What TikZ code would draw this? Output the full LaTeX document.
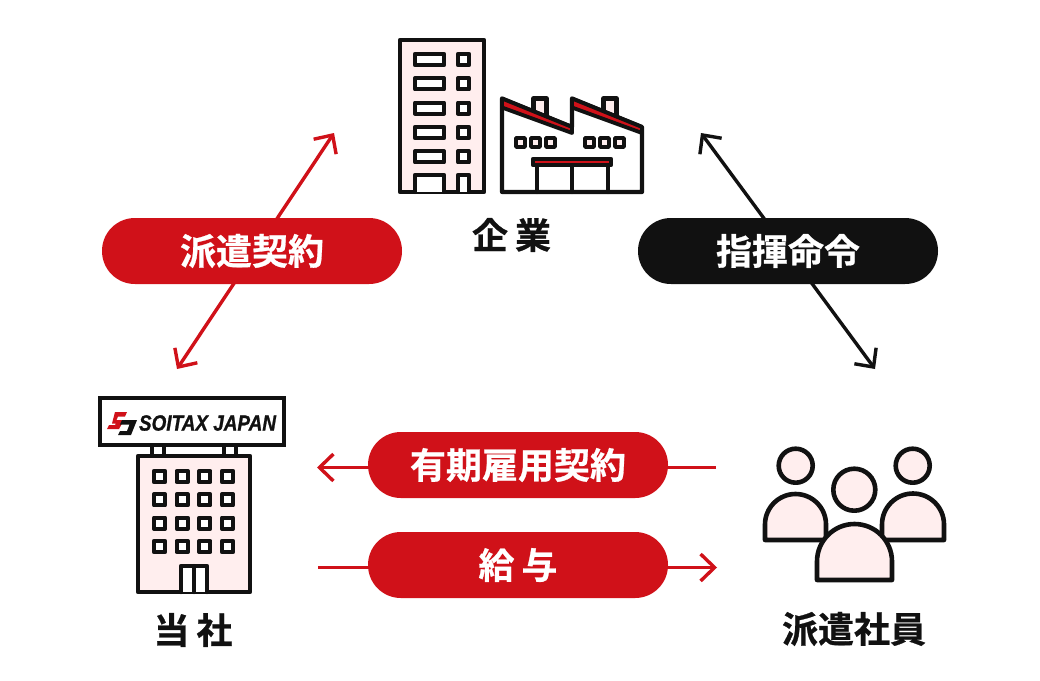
\documentclass[tikz,border=0pt]{standalone}
\usepackage{fontspec}
\setmainfont{Noto Sans CJK JP}
\newfontfamily\cjkb[FakeBold=0.7]{Noto Sans CJK JP Bold}
\newfontfamily\logofont[FakeBold=1.2]{Liberation Sans Bold Italic}
\usetikzlibrary{arrows.meta}
\definecolor{myred}{HTML}{D01119}
\definecolor{myblack}{HTML}{111111}
\definecolor{mypink}{HTML}{FFEEEE}
\tikzset{
  x=1pt,y=-1pt,
  icon/.style={draw=myblack,line width=4.2pt,line join=round,line cap=round},
  pinkicon/.style={icon,fill=mypink},
  whiteicon/.style={icon,fill=white},
  redicon/.style={icon,fill=myred},
  personicon/.style={pinkicon,line width=4.6pt},
  pill/.style={rounded corners=32.9pt,minimum width=300pt,minimum height=66pt,inner sep=0pt,text=white,font=\cjkb\fontsize{36}{36}\selectfont},
  redpill/.style={pill,fill=myred},
  blackpill/.style={pill,fill=myblack},
  caption/.style={text=myblack,font=\cjkb\fontsize{36}{36}\selectfont,inner sep=0pt},
  redarrow/.style={draw=myred,line width=3.4pt},
  blackarrow/.style={draw=myblack,line width=3.4pt},
  tip/.tip={Straight Barb[length=14pt,width=27pt,line width=3.4pt]},
}
\begin{document}
\begin{tikzpicture}
\useasboundingbox (0,0) rectangle (1040,680);
\fill[white] (0,0) rectangle (1040,680);
% arrow ends
\coordinate (a1) at (334,133);
\coordinate (a2) at (177,369);
\coordinate (b1) at (701,133);
\coordinate (b2) at (875,369);
\coordinate (c1) at (716,467.5);
\coordinate (c2) at (317,467.5);
\coordinate (d1) at (318,567.5);
\coordinate (d2) at (717,567.5);
\draw[redarrow,{tip}-{tip}] (a2) -- (a1);
\draw[blackarrow,{tip}-{tip}] (b1) -- (b2);
\draw[redarrow,-{tip}] (c1) -- (c2);
\draw[redarrow,-{tip}] (d1) -- (d2);
% pills
\node[redpill] (haken) at (252,251) {派遣契約};
\node[blackpill] (shiki) at (788,251) {指揮命令};
\node[redpill] (yuki) at (518,465) {有期雇用契約};
\node[redpill] (kyuyo) at (518,565) {給\hspace{7pt}与};
% captions
\node[caption] (kigyo) at (511.5,235) {企\hspace{7pt}業};
\node[caption] (tosha) at (193,630) {当\hspace{7pt}社};
\node[caption] (shain) at (854,629) {派遣社員};
% office building
\draw[pinkicon] (400,40) rectangle (484,192);
\foreach \yy in {54,78.3,102.6,127,151.3}{
  \draw[whiteicon] (415,\yy) rectangle (444,\yy+11);
  \draw[whiteicon] (458,\yy) rectangle (469,\yy+11);
}
\draw[whiteicon] (415,192) -- (415,175) -- (444,175) -- (444,192);
\draw[whiteicon] (458,192) -- (458,175) -- (469,175) -- (469,192);
% factory
\draw[pinkicon] (533.5,120) -- (533.5,98.5) -- (546.5,98.5) -- (546.5,120);
\draw[pinkicon] (603.5,120) -- (603.5,98.5) -- (616.5,98.5) -- (616.5,120);
\draw[whiteicon] (502,192) -- (502,98.5) -- (572,127) -- (572,98.5) -- (642,127) -- (642,192) -- cycle;
\draw[redicon,line width=3.8pt] (502,98.5) -- (572,127) -- (572,133) -- (502,107.5) -- cycle;
\draw[redicon,line width=3.8pt] (572,98.5) -- (642,127) -- (642,133) -- (572,107.5) -- cycle;
\foreach \xx in {516,531,546,585,600,615}
  \draw[icon,fill=mypink,line width=3.8pt] (\xx,138) rectangle (\xx+9,147);
\draw[icon] (537,192) -- (537,165);
\draw[icon] (572,192) -- (572,165);
\draw[icon] (608,192) -- (608,165);
\draw[redicon] (533,159) rectangle (611,165);
% agency building
\draw[icon] (152,447) -- (152,456) (164,447) -- (164,456) (224,447) -- (224,456) (236,447) -- (236,456);
\draw[pinkicon] (138,456) rectangle (250,592);
\foreach \xx in {154,176.7,199.3,222}
  \foreach \yy in {471,494.3,517.7,541}
    \draw[whiteicon] (\xx,\yy) rectangle (\xx+11,\yy+11);
\draw[whiteicon] (181,592) -- (181,566) -- (207,566) -- (207,592);
\draw[icon] (194,566) -- (194,592);
\draw[whiteicon,line cap=butt,line join=miter] (100,398) rectangle (284,445);
% logo
\fill[myred] (115,412) -- (127,412) -- (125,416.5) -- (118,416.5) -- (116.5,420) -- (124,420) -- (119,429) -- (107,429) -- (109,425) -- (115,425) -- (116,423.5) -- (112,423.5) -- cycle;
\fill[myblack] (122,420) -- (137,420) -- (131,435) -- (118,435) -- (120,431) -- (127,431) -- (129.5,424.5) -- (120,424.5) -- cycle;
\node[inner sep=0pt,text=myblack,xscale=.86,transform shape] (logo) at (207.5,423) {\logofont\fontsize{22}{22}\selectfont SOITAX JAPAN};
% people
\draw[personicon] (795.7,465.7) circle (17);
\draw[personicon] (912.7,465.7) circle (17);
\draw[personicon] (854.3,489.7) circle (21);
\draw[personicon] (765,540) -- (765,524.5) arc[start angle=180,end angle=360,radius=30.5] -- (826,540) -- cycle;
\draw[personicon] (882,540) -- (882,524.5) arc[start angle=180,end angle=360,radius=31] -- (944,540) -- cycle;
\draw[personicon] (817,580) -- (817,561.5) arc[start angle=180,end angle=360,radius=37.5] -- (892,580) -- cycle;
\end{tikzpicture}
\end{document}
